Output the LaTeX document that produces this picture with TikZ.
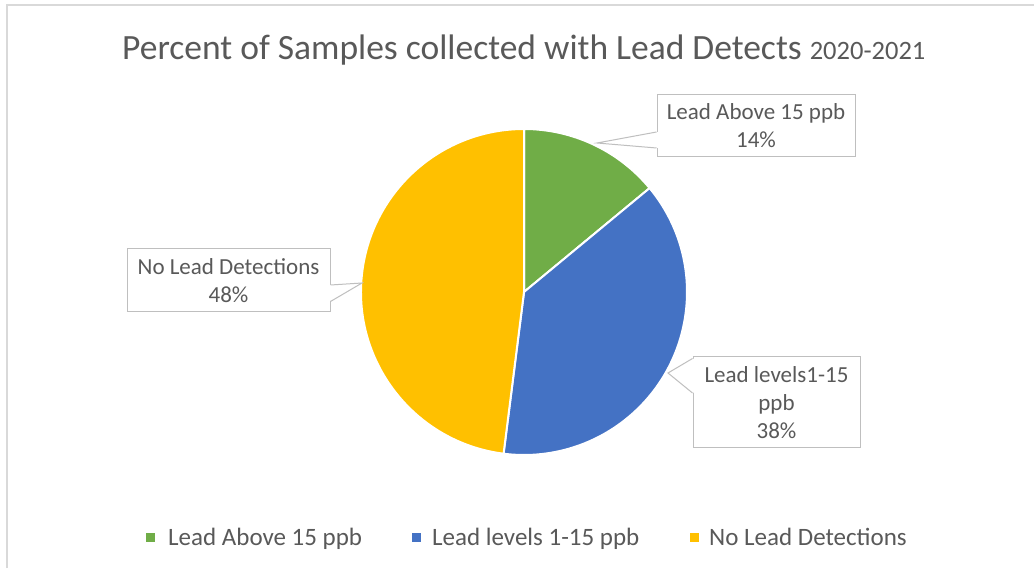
\documentclass[tikz,border=0pt]{standalone}
\usepackage{fontspec}
\setmainfont{Carlito}
\definecolor{cgreen}{HTML}{70AD47}
\definecolor{cblue}{HTML}{4472C4}
\definecolor{cyellow}{HTML}{FFC000}
\definecolor{txtgray}{HTML}{595959}
\definecolor{boxgray}{HTML}{BFBFBF}
\definecolor{framegray}{HTML}{D9D9D9}
\tikzset{
  slice/.style={draw=white, line width=2pt},
  calloutbox/.style={draw=boxgray, line width=1pt, fill=white, align=center, inner sep=0pt,
    text=txtgray, font=\fontsize{23}{28}\selectfont},
  pointerline/.style={draw=boxgray, line width=1pt},
  legendsq/.style={minimum width=9pt, minimum height=9pt, inner sep=0pt},
  legendtxt/.style={anchor=base west, inner sep=0pt, text=txtgray, font=\fontsize{25}{30}\selectfont},
}
\begin{document}
\begin{tikzpicture}[x=1pt,y=1pt]
\useasboundingbox (0,0) rectangle (1034,568);
\fill[white] (0,0) rectangle (1034,568);
% chart frame
\draw[framegray, line width=2pt] (7,0) -- (7,563) -- (1034,563);
% title
\node[anchor=base west, inner sep=0pt, text=txtgray] (title) at (122,508)
  {\fontsize{35.5}{40}\selectfont Percent of Samples collected with Lead Detects \fontsize{26.5}{30}\selectfont 2020-2021};
% pie
\coordinate (pc) at (524,276);
\filldraw[slice, fill=cgreen] (pc) -- ++(90:163) arc[start angle=90, end angle=39.6, radius=163] -- cycle;
\filldraw[slice, fill=cblue] (pc) -- ++(39.6:163) arc[start angle=39.6, end angle=-97.2, radius=163] -- cycle;
\filldraw[slice, fill=cyellow] (pc) -- ++(-97.2:163) arc[start angle=-97.2, end angle=-270, radius=163] -- cycle;
% callout 1
\node[calloutbox, minimum width=198pt, minimum height=62pt] (c1) at (756,442) {Lead Above 15 ppb\\14\%};
\coordinate (t1) at (597,425);
\fill[white] ([xshift=1.5pt,yshift=-6pt]c1.west) -- (t1) -- ([xshift=1.5pt,yshift=-22pt]c1.west) -- cycle;
\draw[pointerline] ([yshift=-6pt]c1.west) -- (t1) -- ([yshift=-22pt]c1.west);
% callout 2
\node[calloutbox, minimum width=203pt, minimum height=63pt] (c2) at (228.5,287.5) {No Lead Detections\\48\%};
\coordinate (t2) at (362,285);
\fill[white] ([xshift=-1.5pt,yshift=-4.5pt]c2.east) -- (t2) -- ([xshift=-1.5pt,yshift=-21pt]c2.east) -- cycle;
\draw[pointerline] ([yshift=-4.5pt]c2.east) -- (t2) -- ([yshift=-21pt]c2.east);
% callout 3
\node[calloutbox, minimum width=167pt, minimum height=91pt] (c3) at (776.5,165.5) {Lead levels1-15\\ppb\\38\%};
\coordinate (t3) at (668,195);
\fill[white] ([xshift=1.5pt,yshift=44pt]c3.west) -- (t3) -- ([xshift=1.5pt,yshift=9.5pt]c3.west) -- cycle;
\draw[pointerline] ([yshift=44pt]c3.west) -- (t3) -- ([yshift=9.5pt]c3.west);
% legend
\node[legendsq, fill=cgreen] (lg1) at (150,31) {};
\node[legendtxt] (lt1) at (168,23) {Lead Above 15 ppb};
\node[legendsq, fill=cblue] (lg2) at (416,31) {};
\node[legendtxt] (lt2) at (432,23) {Lead levels 1-15 ppb};
\node[legendsq, fill=cyellow] (lg3) at (694,31) {};
\node[legendtxt] (lt3) at (709,23) {No Lead Detections};
\end{tikzpicture}
\end{document}
